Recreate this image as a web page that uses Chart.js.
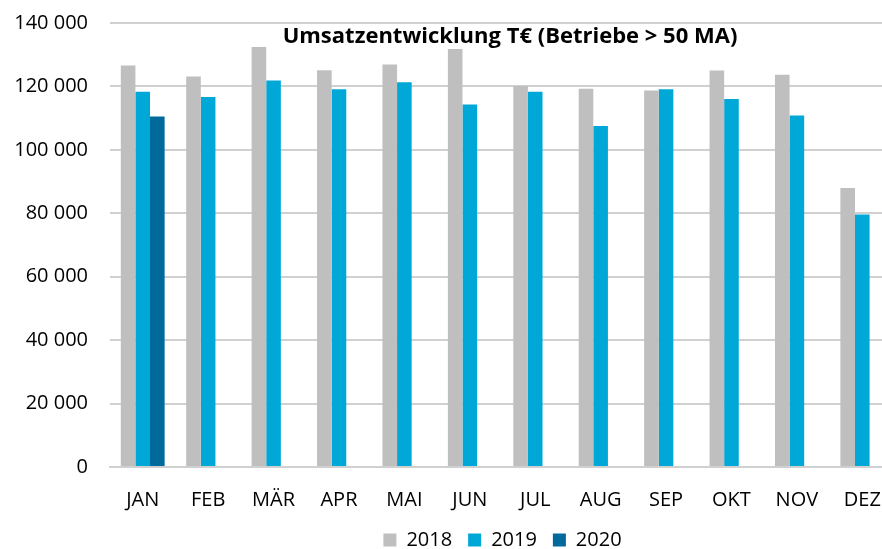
<!DOCTYPE html>
<html>
<head>
<meta charset="utf-8">
<script src="https://cdn.jsdelivr.net/npm/chart.js@4/dist/chart.umd.min.js"></script>
<style>
  html, body { margin: 0; padding: 0; background: #fff; overflow: hidden; }
  /* the original export is cut off on the right and bottom edge */
  #wrap { width: 882px; height: 549px; overflow: hidden; }
</style>
</head>
<body>
<div id="wrap"><canvas id="barChart" width="897" height="560"></canvas></div>
<script>
var months = ["JAN", "FEB", "MÄR", "APR", "MAI", "JUN", "JUL", "AUG", "SEP", "OKT", "NOV", "DEZ"];
var umsatz2018 = [126600, 123100, 132400, 125100, 126900, 131800, 120100, 119300, 118700, 125000, 123700, 88000];
var umsatz2019 = [118300, 116700, 121900, 119100, 121300, 114300, 118300, 107500, 119100, 116000, 110800, 79600];
var umsatz2020 = [110500, null, null, null, null, null, null, null, null, null, null, null];
var chartTitle = "Umsatzentwicklung T€ (Betriebe > 50 MA)";

var fontFamily = "'Open Sans', 'Noto Sans', sans-serif";

// title sits inside the plot area, like in the excel original
var titleInside = {
  id: 'titleInside',
  afterDraw: function(chart) {
    var ctx = chart.ctx;
    ctx.save();
    ctx.font = "bold 22px " + fontFamily;
    ctx.fillStyle = "#000";
    ctx.textAlign = "center";
    ctx.textBaseline = "middle";
    ctx.fillText(chartTitle, 510, 37);
    ctx.restore();
  }
};

var barData = {
  labels: months,
  datasets: [
    { label: "2018", backgroundColor: "#bfbfbf", data: umsatz2018 },
    { label: "2019", backgroundColor: "#00a8d8", data: umsatz2019 },
    { label: "2020", backgroundColor: "#006a9a", data: umsatz2020 }
  ]
};

var barOptions = {
  responsive: false,
  animation: false,
  layout: { padding: { left: 0, right: 2, top: 23, bottom: 0 } },
  datasets: { bar: { categoryPercentage: 0.67, barPercentage: 1.0 } },
  scales: {
    x: {
      grid: { display: false, drawTicks: false },
      border: { color: "#d0d0d0", width: 2 },
      ticks: { color: "#000", font: { family: fontFamily, size: 20 }, padding: 21 },
      afterFit: function(scale) {
        scale.height = 47;
        scale.paddingLeft = 0;
        scale.paddingRight = 0;
      }
    },
    y: {
      min: 0,
      max: 140000,
      ticks: {
        stepSize: 20000,
        color: "#000",
        padding: 22,
        font: { family: fontFamily, size: 20 },
        callback: function(v) { return v.toLocaleString("de-DE").replace(/\./g, " "); }
      },
      grid: { color: "#d0d0d0", lineWidth: 2, drawTicks: false },
      border: { display: false },
      afterFit: function(scale) {
        scale.width = 110;
        scale.paddingTop = 0;
        scale.paddingBottom = 0;
      }
    }
  },
  plugins: {
    title: { display: false },
    tooltip: { enabled: false },
    legend: {
      position: "bottom",
      fullSize: false,
      labels: {
        color: "#000",
        boxWidth: 13,
        boxHeight: 13,
        padding: 16,
        font: { family: fontFamily, size: 20 }
      }
    }
  }
};

var ctx = document.getElementById("barChart").getContext("2d");
new Chart(ctx, {
  type: 'bar',
  data: barData,
  options: barOptions,
  plugins: [titleInside]
});
</script>
</body>
</html>
